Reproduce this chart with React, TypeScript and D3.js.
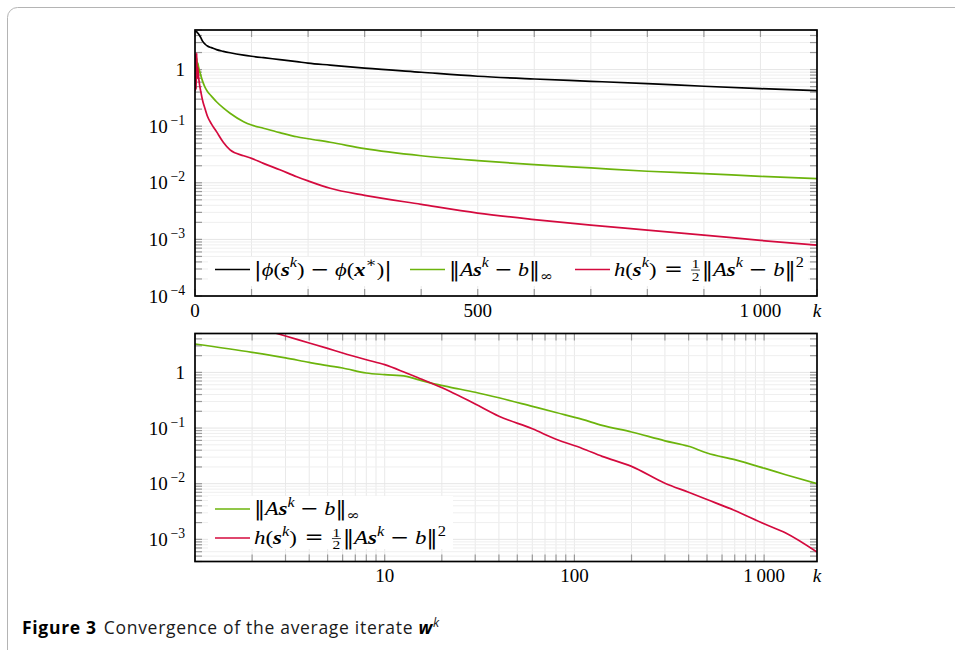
import React, { useEffect, useRef } from 'react';
import * as d3 from 'd3';

// top panel (linear iterations)
const topK = [0, 1, 2, 3, 4, 5, 6, 8, 10, 14, 18, 22, 29, 38, 50, 62, 86, 100, 121, 150, 180, 200, 239, 300, 400, 500, 600, 700, 800, 900, 1000, 1100];
const topPhiGap = [4.7, 4.7, 4.68, 4.65, 4.5, 4.4, 4.3, 4.0, 3.7, 3.1, 2.8, 2.6, 2.44, 2.25, 2.1, 1.98, 1.8, 1.72, 1.62, 1.5, 1.38, 1.3, 1.2, 1.06, 0.896, 0.762, 0.682, 0.621, 0.563, 0.507, 0.46, 0.424];
const topInf = [0.55, 1.5, 0.75, 1.6, 1.0, 1.3, 1.15, 0.95, 0.8, 0.6, 0.48, 0.41, 0.34, 0.27, 0.21, 0.169, 0.12, 0.105, 0.092, 0.077, 0.065, 0.06, 0.052, 0.04, 0.03, 0.0246, 0.0209, 0.0183, 0.016, 0.0145, 0.013, 0.0118];
const topH = [0.42, 1.9, 0.45, 1.95, 0.7, 1.1, 0.8, 0.55, 0.42, 0.27, 0.2, 0.15, 0.11, 0.08, 0.052, 0.038, 0.03, 0.027, 0.022, 0.017, 0.0128, 0.0108, 0.008, 0.006, 0.00416, 0.00292, 0.00224, 0.00178, 0.00146, 0.00119, 0.00096, 0.00079];
const topXLabels = [0, 500, 1000];

// bottom panel (log iterations)
const botK = [1, 2, 3, 4, 5, 6, 8, 10, 13, 15, 18, 22, 30, 40, 60, 80, 110, 140, 200, 300, 400, 500, 700, 1000, 1300, 1900];
const botInf = [3.24, 2.29, 1.82, 1.51, 1.32, 1.2, 0.975, 0.91, 0.85, 0.74, 0.63, 0.545, 0.44, 0.35, 0.245, 0.19, 0.143, 0.112, 0.085, 0.059, 0.047, 0.0356, 0.027, 0.019, 0.0145, 0.01];
const botH = [14, 6.8, 4.5, 3.38, 2.7, 2.23, 1.69, 1.38, 0.975, 0.8, 0.62, 0.46, 0.27, 0.163, 0.097, 0.063, 0.043, 0.031, 0.0205, 0.0102, 0.007, 0.0052, 0.0033, 0.0019, 0.0013, 0.00059];
const botXLabels = [10, 100, 1000];

const BLACK = '#000000';
const GREEN = '#6cb40c';
const RED = '#d40a3e';
const TICKFONT = '"Liberation Serif", "DejaVu Serif", serif';
const OPFONT = '"DejaVu Serif", "Liberation Serif", serif';
const FS = 19;

// f: i italic, b bold, bi bold italic, o operator glyph (other font)
type Seg = { t: string; f?: 'i' | 'b' | 'bi' | 'o'; p?: 'sup' | 'sub' | 'frac' };

// lays out a little math formula piece by piece, returns end x
function drawMath(g: any, x: number, y: number, segs: Seg[], size: number) {
  let cx = x;
  segs.forEach(s => {
    if (s.p === 'frac') {
      const fs = size * 0.68;
      const [a, b] = s.t.split('/');
      const line = y - size * 0.28;
      const ta = g.append('text').attr('y', line - size * 0.08).text(a)
        .style('font-family', TICKFONT).style('font-size', fs + 'px').attr('text-anchor', 'middle');
      const tb = g.append('text').attr('y', line + size * 0.08 + fs * 0.68).text(b)
        .style('font-family', TICKFONT).style('font-size', fs + 'px').attr('text-anchor', 'middle');
      const w = Math.max(ta.node().getComputedTextLength(), tb.node().getComputedTextLength()) + 2;
      ta.attr('x', cx + w / 2);
      tb.attr('x', cx + w / 2);
      g.append('line').attr('x1', cx + 0.5).attr('x2', cx + w - 0.5).attr('y1', line).attr('y2', line)
        .attr('stroke', '#000').attr('stroke-width', 0.7);
      cx += w + 1;
      return;
    }
    const fs = s.p ? size * 0.72 : size;
    const dy = s.p === 'sup' ? -size * 0.42 : s.p === 'sub' ? size * 0.26 : 0;
    const t = g.append('text').attr('x', cx).attr('y', y + dy).text(s.t)
      .style('font-family', s.f === 'o' ? OPFONT : TICKFONT).style('font-size', fs + 'px')
      .style('font-style', s.f === 'i' || s.f === 'bi' ? 'italic' : 'normal')
      .style('font-weight', s.f === 'b' || s.f === 'bi' ? 'bold' : 'normal')
      .attr('fill', '#000');
    cx += t.node().getComputedTextLength();
  });
  return cx;
}

// legend formula stretched slightly to the width it has in the figure
function drawLegendText(g: any, x: number, y: number, segs: Seg[], width: number) {
  const lg = g.append('g');
  const w = drawMath(lg, 0, 0, segs, 19.5);
  lg.attr('transform', `translate(${x},${y}) scale(${width / w},1)`);
}

const SP = '\u2005';
const legPhi: Seg[] = [{ t: '|', f: 'o' }, { t: '\u03d5', f: 'i' }, { t: '(' }, { t: 's', f: 'bi' }, { t: 'k', f: 'i', p: 'sup' }, { t: ')' + SP }, { t: '\u2212', f: 'o' }, { t: SP }, { t: '\u03d5', f: 'i' }, { t: '(' }, { t: 'x', f: 'bi' }, { t: '\u2217', f: 'o', p: 'sup' }, { t: ')' }, { t: '|', f: 'o' }];
const legInf: Seg[] = [{ t: '\u2016', f: 'o' }, { t: 'A', f: 'i' }, { t: 's', f: 'bi' }, { t: 'k', f: 'i', p: 'sup' }, { t: SP }, { t: '\u2212', f: 'o' }, { t: SP }, { t: 'b', f: 'i' }, { t: '\u2016', f: 'o' }, { t: '\u221e', f: 'o', p: 'sub' }];
const legH: Seg[] = [{ t: 'h', f: 'i' }, { t: '(' }, { t: 's', f: 'bi' }, { t: 'k', f: 'i', p: 'sup' }, { t: ')\u2004' }, { t: '=', f: 'o' }, { t: '\u2004' }, { t: '1/2', p: 'frac' }, { t: '\u2016', f: 'o' }, { t: 'A', f: 'i' }, { t: 's', f: 'bi' }, { t: 'k', f: 'i', p: 'sup' }, { t: SP }, { t: '\u2212', f: 'o' }, { t: SP }, { t: 'b', f: 'i' }, { t: '\u2016', f: 'o' }, { t: '2', p: 'sup' }];

function logTicks(lo: number, hi: number) {
  const out: { v: number; major: boolean }[] = [];
  for (let e = Math.floor(Math.log10(lo)); e <= Math.ceil(Math.log10(hi)); e++) {
    for (let m = 1; m <= 9; m++) {
      const v = m * Math.pow(10, e);
      if (v >= lo * 0.999 && v <= hi * 1.001) out.push({ v, major: m === 1 });
    }
  }
  return out;
}

const App = () => {
  const svgRef = useRef<SVGSVGElement>(null);

  useEffect(() => {
    const svg = d3.select(svgRef.current);
    svg.selectAll('*').remove();

    // outer frame of the figure
    svg.append('rect').attr('x', 7.5).attr('y', 7.5).attr('width', 980).attr('height', 700)
      .attr('rx', 10).attr('fill', 'none').attr('stroke', '#b4b4b4').attr('stroke-width', 1);

    const panel = (id: string, box: { l: number; r: number; t: number; b: number }, x: any, xTicks: number[], xLabels: number[], xFmt: (v: number) => string, yDom: [number, number]) => {
      const y = d3.scaleLog().domain(yDom).range([box.b, box.t]);
      const g = svg.append('g');
      const yt = logTicks(yDom[0], yDom[1]);

      // grid
      g.selectAll('.gx').data(xTicks).enter().append('line')
        .attr('x1', d => x(d)).attr('x2', d => x(d)).attr('y1', box.t).attr('y2', box.b)
        .attr('stroke', '#e9e9e9').attr('stroke-width', 1);
      g.selectAll('.gy').data(yt).enter().append('line')
        .attr('x1', box.l).attr('x2', box.r).attr('y1', d => y(d.v)).attr('y2', d => y(d.v))
        .attr('stroke', d => d.major ? '#e6e6e6' : '#efefef').attr('stroke-width', 1);

      // ticks inside, all four sides
      const tl = 7;
      xTicks.forEach(v => {
        g.append('line').attr('x1', x(v)).attr('x2', x(v)).attr('y1', box.b).attr('y2', box.b - tl).attr('stroke', '#999').attr('stroke-width', 1.2);
        g.append('line').attr('x1', x(v)).attr('x2', x(v)).attr('y1', box.t).attr('y2', box.t + tl).attr('stroke', '#999').attr('stroke-width', 1.2);
      });
      yt.forEach(d => {
        g.append('line').attr('x1', box.l).attr('x2', box.l + tl).attr('y1', y(d.v)).attr('y2', y(d.v)).attr('stroke', '#999').attr('stroke-width', 1.2);
        g.append('line').attr('x1', box.r).attr('x2', box.r - tl).attr('y1', y(d.v)).attr('y2', y(d.v)).attr('stroke', '#999').attr('stroke-width', 1.2);
      });

      // y labels
      yt.filter(d => d.major).forEach(d => {
        const e = Math.round(Math.log10(d.v));
        const lg = g.append('g');
        const segs: Seg[] = e === 0 ? [{ t: '1' }] : [{ t: '10' }, { t: '\u2009\u2212' + Math.abs(e), p: 'sup' }];
        const w = drawMath(lg, 0, y(d.v) + 6.5, segs, FS);
        lg.attr('transform', `translate(${185 - w},0)`);
      });
      // x labels
      xLabels.forEach(v => {
        g.append('text').attr('x', x(v)).attr('y', box.b + 20.5).attr('text-anchor', 'middle')
          .style('font-family', TICKFONT).style('font-size', FS + 'px').text(xFmt(v));
      });
      g.append('text').attr('x', box.r).attr('y', box.b + 20.5).attr('text-anchor', 'middle')
        .style('font-family', TICKFONT).style('font-size', FS + 'px').style('font-style', 'italic').text('k');

      svg.append('clipPath').attr('id', id).append('rect')
        .attr('x', box.l).attr('y', box.t).attr('width', box.r - box.l).attr('height', box.b - box.t);
      const plot = g.append('g').attr('clip-path', `url(#${id})`);
      return { y, g, plot };
    };

    const addLine = (plot: any, x: any, y: any, ks: number[], vs: number[], color: string) => {
      const line = d3.line<number>().x((_, i) => x(ks[i])).y(d => y(d)).curve(d3.curveMonotoneX);
      plot.append('path').attr('d', line(vs)).attr('fill', 'none').attr('stroke', color)
        .attr('stroke-width', 1.7).attr('stroke-linejoin', 'round');
    };

    // ---- top
    const tb = { l: 195, r: 817, t: 30, b: 296 };
    const xTop = d3.scaleLinear().domain([0, 1100]).range([tb.l, tb.r]);
    const top = panel('clipTop', tb, xTop, d3.range(0, 1101, 100), topXLabels,
      v => v >= 1000 ? '1\u2009000' : String(v), [1e-4, 5]);
    addLine(top.plot, xTop, top.y, topK, topPhiGap, BLACK);
    addLine(top.plot, xTop, top.y, topK, topInf, GREEN);
    addLine(top.plot, xTop, top.y, topK, topH, RED);
    top.g.append('rect').attr('x', 208).attr('y', 257).attr('width', 600).attr('height', 29).attr('fill', '#fff');
    const legTop = top.g.append('g');
    [[legPhi, BLACK, 215, 138], [legInf, GREEN, 410, 104], [legH, RED, 575, 190]].forEach(([segs, c, lx, w]: any) => {
      legTop.append('line').attr('x1', lx).attr('x2', lx + 35).attr('y1', 269.5).attr('y2', 269.5).attr('stroke', c).attr('stroke-width', 1.7);
      drawLegendText(legTop, lx + 39, 275.5, segs, w);
    });

    // ---- bottom
    const bb = { l: 195, r: 817, t: 333.5, b: 561.5 };
    const xBot = d3.scaleLog().domain([1, 1900]).range([bb.l, bb.r]);
    const botXT = logTicks(1, 1900).map(d => d.v);
    const bot = panel('clipBot', bb, xBot, botXT, botXLabels,
      v => v >= 1000 ? '1\u2009000' : String(v), [4e-4, 5]);
    addLine(bot.plot, xBot, bot.y, botK, botInf, GREEN);
    addLine(bot.plot, xBot, bot.y, botK, botH, RED);
    bot.g.append('rect').attr('x', 208).attr('y', 496).attr('width', 245).attr('height', 53).attr('fill', '#fff');
    const legBot = bot.g.append('g');
    [[legInf, GREEN, 509, 106], [legH, RED, 538, 192]].forEach(([segs, c, ly, w]: any) => {
      legBot.append('line').attr('x1', 215).attr('x2', 250).attr('y1', ly).attr('y2', ly).attr('stroke', c).attr('stroke-width', 1.7);
      drawLegendText(legBot, 254, ly + 6, segs, w);
    });

    // frames on top
    [tb, bb].forEach(b => {
      svg.append('rect').attr('x', b.l).attr('y', b.t).attr('width', b.r - b.l).attr('height', b.b - b.t)
        .attr('fill', 'none').attr('stroke', '#000').attr('stroke-width', 1.7);
    });

    // caption
    const cap = svg.append('text').attr('x', 22).attr('y', 633.5)
      .style('font-family', '"Open Sans", "Noto Sans", sans-serif').style('font-size', '17.5px')
      .style('letter-spacing', '0.7px').attr('fill', '#1a1a1a');
    cap.append('tspan').style('font-weight', 'bold').attr('fill', '#000').text('Figure 3');
    cap.append('tspan').attr('dx', 7).text('Convergence of the average iterate ');
    cap.append('tspan').style('font-weight', 'bold').style('font-style', 'italic').attr('fill', '#000').text('w');
    cap.append('tspan').attr('dy', -7).style('font-size', '12.5px').style('font-style', 'italic').text('k');
  }, []);

  return <svg ref={svgRef} width={955} height={650} style={{ position: 'absolute', left: 0, top: 0, background: '#fff' }} />;
};

export default App;
